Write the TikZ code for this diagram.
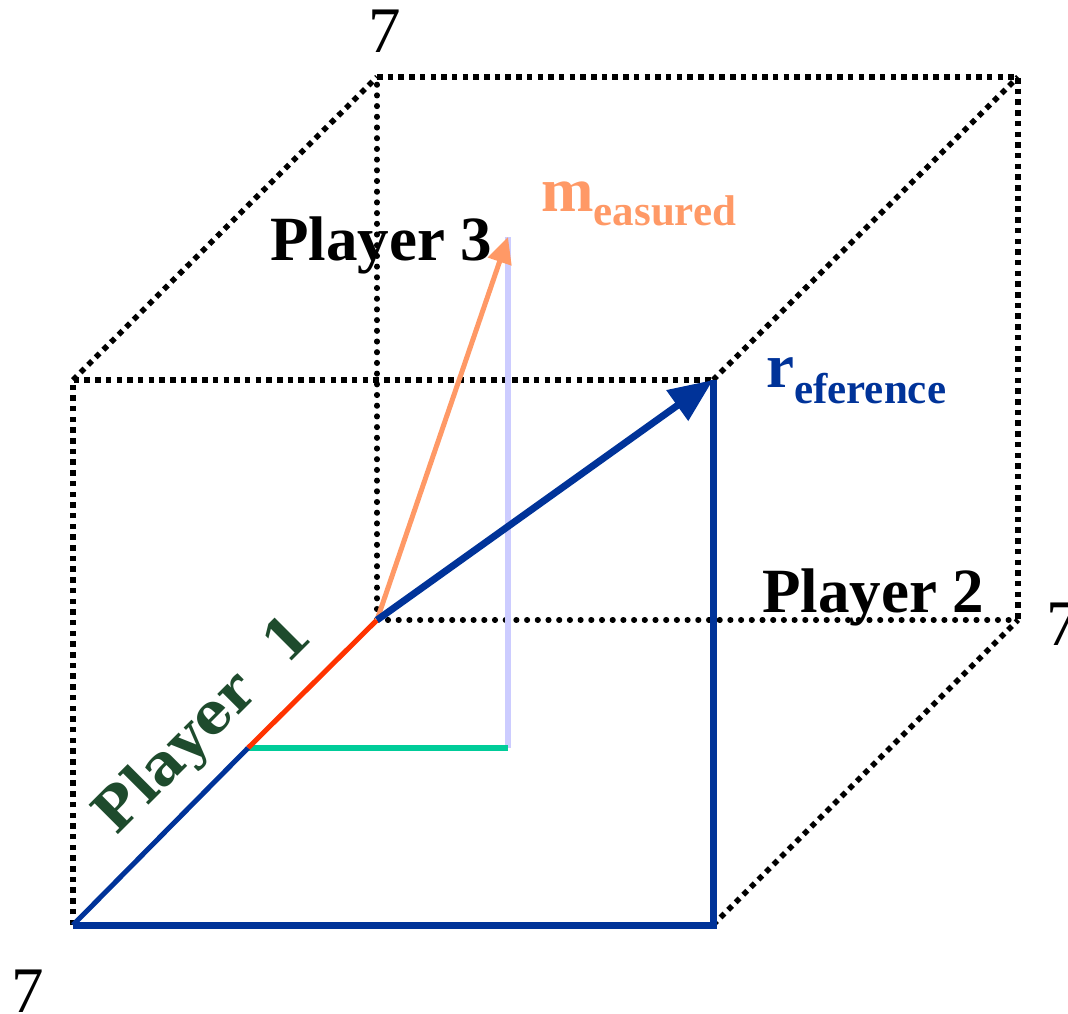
\documentclass[tikz,border=0pt]{standalone}
\usepackage{fontspec}
\setmainfont{Liberation Serif}
\newfontfamily\wideserif{DejaVu Serif}
\usetikzlibrary{arrows.meta}
\definecolor{refblue}{RGB}{0,51,153}
\definecolor{measorange}{RGB}{255,153,102}
\definecolor{axred}{RGB}{255,51,0}
\definecolor{axgreen}{RGB}{0,204,153}
\definecolor{axlavender}{RGB}{204,204,255}
\definecolor{pgreen}{RGB}{30,75,45}

\begin{document}
\begin{tikzpicture}[x=1pt, y=-1pt,
  sqdots/.style={line width=5.5pt, dash pattern=on 5.5pt off 5.2pt, line cap=butt},
  rddots/.style={line width=5.5pt, dash pattern=on 0.6pt off 10.1pt, line cap=round},
  bigtext/.style={font=\fontsize{63}{66}\selectfont\bfseries, anchor=base west, inner sep=0pt},
  seven/.style={font=\fontsize{65}{68}\selectfont, anchor=base, inner sep=0pt}]
\useasboundingbox (0,0) rectangle (1068,1013);
% corners of the cube
\coordinate (o) at (377,620);
\coordinate (p1) at (73,925);
\coordinate (p2) at (1018,620);
\coordinate (p3) at (377,77);
\coordinate (f12) at (713,925);
\coordinate (f13) at (73,380);
\coordinate (b23) at (1018,77);
\coordinate (ref) at (713,380);
% measured point and its parts
\coordinate (m1) at (248,748);
\coordinate (m12) at (508,748);
\coordinate (meas) at (508,237);
% dotted cube
\draw[sqdots] (p1) -- (f13) -- (ref);
\draw[sqdots] (p1) -- (f12);
\draw[sqdots] (f13) -- (p3);
\draw[sqdots] (ref) -- (b23);
\draw[sqdots] (f12) -- (p2);
\draw[sqdots] (p3) -- (b23) -- (p2);
\draw[rddots] (o) -- (p3);
\draw[rddots] (o) -- (p2);
% measured vector
\draw[line width=6pt, axlavender] (m12) -- (meas);
\draw[line width=5.5pt, axgreen] (m1) -- (m12);
\draw[line width=5pt, axred] (m1) -- (o);
\draw[line width=5pt, refblue] (p1) -- (m1);
\draw[line width=5pt, measorange, -{Triangle[length=26pt,width=24pt]}] (o) -- (meas);
% reference vector
\draw[line width=7pt, refblue] (p1) -- (f12) -- (ref);
\draw[line width=7pt, refblue, -{Triangle[length=44pt,width=36pt]}] (o) -- (ref);
% labels
\node[seven] (t3) at (385,52) {7};
\node[seven] (t2) at (1063,645) {7};
\node[seven] (t1) at (28,1012) {7};
\node[bigtext] (lab3) at (270,260) {Player 3};
\node[bigtext] (lab2) at (762,612) {Player 2};
\node[bigtext, text=measorange] (labm) at (541,211) {m\raisebox{-14pt}{\fontsize{43}{45}\selectfont easured}};
\node[bigtext, text=refblue] (labr) at (766,387) {r\raisebox{-16pt}{\fontsize{43}{45}\selectfont eference}};
\node[rotate=45, text=pgreen, font=\fontsize{57}{60}\selectfont\wideserif\bfseries, inner sep=0pt] (lab1) at (205,727) {Player\ \ 1};
\end{tikzpicture}
\end{document}
